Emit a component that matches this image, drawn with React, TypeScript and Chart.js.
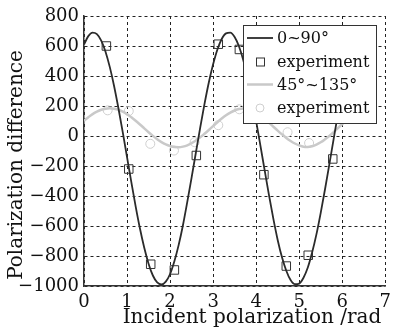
import React, { useEffect, useRef } from "react";
import { Chart, registerables } from "chart.js";

Chart.register(...registerables);

// Simulated curve sampling (rad)
const curveX = [
  0, 0.1, 0.2, 0.3, 0.4, 0.5, 0.6, 0.7, 0.8, 0.9,
  1.0, 1.1, 1.2, 1.3, 1.4, 1.5, 1.6, 1.7, 1.8, 1.9,
  2.0, 2.1, 2.2, 2.3, 2.4, 2.5, 2.6, 2.7, 2.8, 2.9,
  3.0, 3.1, 3.2, 3.3, 3.4, 3.5, 3.6, 3.7, 3.8, 3.9,
  4.0, 4.1, 4.2, 4.3, 4.4, 4.5, 4.6, 4.7, 4.8, 4.9,
  5.0, 5.1, 5.2, 5.3, 5.4, 5.5, 5.6, 5.7, 5.8, 5.9,
  6.0, 6.1, 6.2, 6.3,
];

// 0~90° simulated polarization difference
const curve0to90 = [
  610, 666, 689, 679, 636, 562, 459, 332, 185, 26,
  -141, -308, -469, -617, -745, -851, -930, -976, -990, -971,
  -920, -835, -726, -593, -439, -277, -110, 56, 214, 357,
  478, 577, 647, 684, 689, 660, 598, 507, 391, 252,
  98, -66, -233, -398, -553, -693, -809, -898, -960, -988,
  -984, -945, -877, -777, -656, -512, -355, -189, -21, 146,
  300, 433, 540, 623,
];

// 45°~135° simulated polarization difference
const curve45to135 = [
  102, 125, 146, 162, 175, 182, 185, 182, 175, 162,
  146, 125, 102, 77, 51, 25, 1, -22, -41, -56,
  -67, -74, -75, -71, -62, -48, -30, -9, 15, 40,
  66, 92, 116, 138, 156, 170, 180, 184, 179, 168,
  153, 134, 112, 88, 62, 36, 11, -13, -33, -50,
  -63, -72, -74, -68, -57, -42, -22, 0, 25, 52,
  80, 105, 128, 146,
];

// Experiment points, 0~90°
const exp0to90X = [0.52, 1.04, 1.55, 2.1, 2.61, 3.12, 3.61, 4.18, 4.7, 5.21, 5.78];
const exp0to90Y = [600, -220, -855, -893, -130, 612, 577, -258, -867, -795, -153];

// Experiment points, 45°~135°
const exp45to135X = [0.55, 1.04, 1.54, 2.09, 2.57, 3.12, 3.61, 4.18, 4.73, 5.23];
const exp45to135Y = [171, 166, -52, -97, -41, 72, 178, 118, 25, -47];

const xTicks = [0, 1, 2, 3, 4, 5, 6, 7];
const yTicks = [-1000, -800, -600, -400, -200, 0, 200, 400, 600, 800];

const seriesLabels = ["0~90°", "experiment", "45°~135°", "experiment"];
const xTitle = "Incident polarization /rad";
const yTitle = "Polarization difference";

const FONT = "'DejaVu Serif', serif";
const DARK = "#2b2b2b";
const LIGHT = "#c9c9c9";

const zip = (xs: number[], ys: number[]) => xs.map((x, i) => ({ x, y: ys[i] }));

const titlesPlugin = {
  id: "axisTitles",
  afterDraw(chart: any) {
    const ctx = chart.ctx as CanvasRenderingContext2D;
    ctx.save();
    ctx.font = `20px ${FONT}`;
    ctx.fillStyle = "#111";
    ctx.textAlign = "center";
    ctx.textBaseline = "middle";
    ctx.fillText(xTitle, 252, 318);
    ctx.translate(17, 165);
    ctx.rotate(-Math.PI / 2);
    ctx.fillText(yTitle, 0, 0);
    ctx.restore();
  },
};

const legendPlugin = {
  id: "innerLegend",
  afterDraw(chart: any) {
    const ctx = chart.ctx as CanvasRenderingContext2D;
    const ds = chart.data.datasets;
    const bx = 243.5, by = 25.5, bw = 133, bh = 98;
    ctx.save();
    ctx.fillStyle = "#ffffff";
    ctx.fillRect(bx, by, bw, bh);
    ctx.strokeStyle = "#333";
    ctx.lineWidth = 1;
    ctx.strokeRect(bx, by, bw, bh);
    const rows = [38, 61.5, 84.5, 108];
    ctx.font = `16px ${FONT}`;
    ctx.textBaseline = "middle";
    ctx.textAlign = "left";
    [0, 1, 2, 3].forEach((di, r) => {
      const d = ds[di];
      const y = rows[r];
      if (d.showLine !== false && d.pointRadius === 0) {
        ctx.beginPath();
        ctx.strokeStyle = d.borderColor;
        ctx.lineWidth = d.borderWidth;
        ctx.moveTo(247, y);
        ctx.lineTo(273, y);
        ctx.stroke();
      } else if (d.pointStyle === "rect") {
        ctx.strokeStyle = d.pointBorderColor;
        ctx.lineWidth = 1;
        ctx.strokeRect(256.5, y - 3.5, 8, 8);
      } else {
        ctx.beginPath();
        ctx.strokeStyle = d.pointBorderColor;
        ctx.lineWidth = 1;
        ctx.arc(260, y, 4, 0, Math.PI * 2);
        ctx.stroke();
      }
      ctx.fillStyle = "#111";
      ctx.fillText(d.label, 277, y + 1);
    });
    ctx.restore();
  },
};

export default function App() {
  const ref = useRef<HTMLCanvasElement | null>(null);

  useEffect(() => {
    document.body.style.margin = "0";
    const canvas = ref.current!;
    const chart = new Chart(canvas, {
      type: "scatter",
      data: {
        datasets: [
          {
            label: seriesLabels[0],
            data: zip(curveX, curve0to90),
            showLine: true,
            borderColor: DARK,
            borderWidth: 1.8,
            pointRadius: 0,
            cubicInterpolationMode: "monotone",
          } as any,
          {
            label: seriesLabels[1],
            data: zip(exp0to90X, exp0to90Y),
            showLine: false,
            pointStyle: "rect",
            pointRadius: 6,
            pointBorderColor: "#333",
            pointBackgroundColor: "rgba(0,0,0,0)",
            pointBorderWidth: 1,
          } as any,
          {
            label: seriesLabels[2],
            data: zip(curveX, curve45to135),
            showLine: true,
            borderColor: LIGHT,
            borderWidth: 2.5,
            pointRadius: 0,
            cubicInterpolationMode: "monotone",
          } as any,
          {
            label: seriesLabels[3],
            data: zip(exp45to135X, exp45to135Y),
            showLine: false,
            pointStyle: "circle",
            pointRadius: 4.5,
            pointBorderColor: "#cfcfcf",
            pointBackgroundColor: "rgba(0,0,0,0)",
            pointBorderWidth: 1,
          } as any,
        ],
      },
      options: {
        animation: false,
        responsive: false,
        events: [],
        layout: { padding: { top: 16, right: 7, left: 0, bottom: 0 } },
        plugins: { legend: { display: false }, tooltip: { enabled: false } },
        scales: {
          x: {
            type: "linear",
            min: 0,
            max: 7,
            afterBuildTicks: (s: any) => {
              s.ticks = xTicks.map((v) => ({ value: v }));
            },
            afterFit: (s: any) => {
              s.height = 46;
            },
            ticks: {
              padding: 6,
              color: "#111",
              font: { family: FONT, size: 18 },
              callback: (v: any) => String(v),
            },
            grid: { color: "#222", lineWidth: 1, drawTicks: false },
            border: { display: true, color: "#333", width: 1.5, dash: [3, 3] },
            title: { display: false },
          },
          y: {
            type: "linear",
            min: -1000,
            max: 800,
            afterBuildTicks: (s: any) => {
              s.ticks = yTicks.map((v) => ({ value: v }));
            },
            afterFit: (s: any) => {
              s.width = 84;
            },
            ticks: {
              padding: 5,
              color: "#111",
              font: { family: FONT, size: 18 },
              callback: (v: any) => (Number(v) < 0 ? "\u2212" + Math.abs(Number(v)) : String(v)),
            },
            grid: { color: "#222", lineWidth: 1, drawTicks: false },
            border: { display: true, color: "#333", width: 1.5, dash: [3, 3] },
            title: { display: false },
          },
        },
      },
      plugins: [titlesPlugin, legendPlugin],
    });
    return () => chart.destroy();
  }, []);

  return (
    <div style={{ width: 397, height: 332 }}>
      <canvas ref={ref} width={397} height={332} style={{ display: "block" }} />
    </div>
  );
}
